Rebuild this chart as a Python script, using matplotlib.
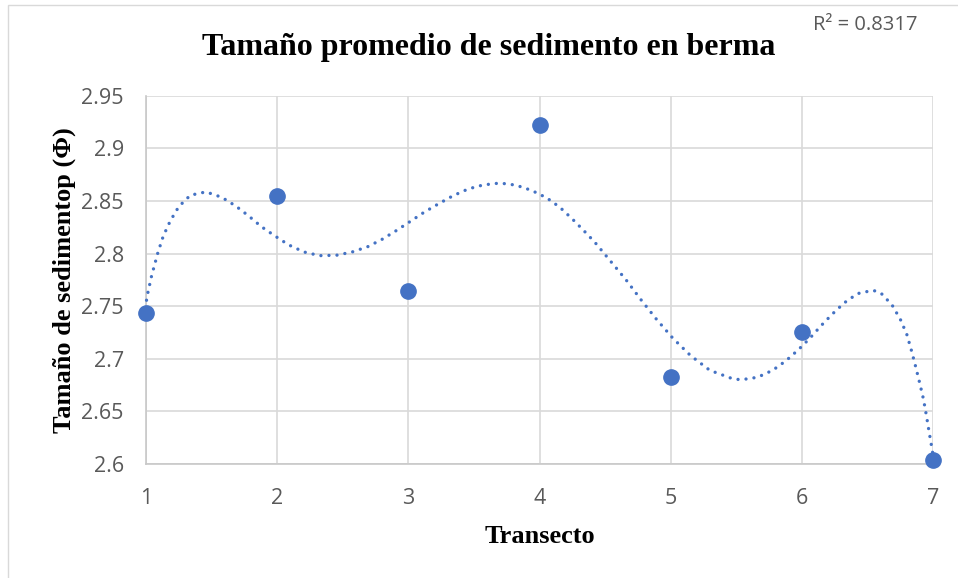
import matplotlib.pyplot as plt
from matplotlib.patches import Rectangle

# Transect data (mean sediment size, phi)
transecto = [1, 2, 3, 4, 5, 6, 7]
tamano = [2.7435, 2.8545, 2.764, 2.922, 2.683, 2.725, 2.604]

# Trendline
trend_x = [1.0, 1.005, 1.043, 1.091, 1.132, 1.185, 1.25, 1.338, 1.457, 1.577, 1.684,
           1.783, 1.879, 1.983, 2.088, 2.204, 2.324, 2.453, 2.572, 2.692, 2.801,
           2.908, 3.012, 3.121, 3.228, 3.342, 3.457, 3.571, 3.698, 3.82, 3.94,
           4.054, 4.155, 4.249, 4.336, 4.42, 4.50, 4.58, 4.664, 4.775, 4.892,
           5.017, 5.152, 5.299, 5.477, 5.54, 5.662, 5.777, 5.878, 5.972, 6.061,
           6.145, 6.231, 6.322, 6.424, 6.543, 6.604, 6.688, 6.752, 6.80, 6.836,
           6.869, 6.899, 6.927, 6.950, 6.970, 6.991, 7.0]
trend_y = [2.748, 2.7575, 2.779, 2.801, 2.8167, 2.831, 2.8446, 2.8554, 2.8586, 2.8535, 2.8452,
           2.8357, 2.8256, 2.8167, 2.8082, 2.8015, 2.798, 2.7984, 2.8015, 2.8066, 2.8136,
           2.8218, 2.8303, 2.8393, 2.8471, 2.855, 2.8614, 2.8652, 2.867, 2.865, 2.860,
           2.853, 2.844, 2.833, 2.822, 2.811, 2.799, 2.787, 2.7743, 2.7559, 2.7375,
           2.7195, 2.703, 2.689, 2.6808, 2.6801, 2.6824, 2.689, 2.698, 2.7084, 2.7195,
           2.7312, 2.7423, 2.753, 2.7619, 2.7651, 2.7623, 2.7511, 2.7372, 2.7233, 2.7077,
           2.6919, 2.6767, 2.6618, 2.6459, 2.6307, 2.6155, 2.6086]

y_ticks = [2.6, 2.65, 2.7, 2.75, 2.8, 2.85, 2.9, 2.95]
y_labels = ['2.6', '2.65', '2.7', '2.75', '2.8', '2.85', '2.9', '2.95']

azul = '#4472C4'
gris = '#595959'

fig = plt.figure(figsize=(9.58, 5.78), dpi=100)
ax = fig.add_axes([146 / 958, 1 - 464 / 578, (933 - 146) / 958, (464 - 95.7) / 578])

# light outer border like the Excel chart area
fig.patches.append(Rectangle((8 / 958, -0.1), 1.2, 1 - 5 / 578 + 0.1, transform=fig.transFigure,
                             fill=False, edgecolor='#D9D9D9', linewidth=1))

ax.plot(trend_x, trend_y, color=azul, linewidth=2.4, linestyle=(0, (0.01, 2.4)),
        dash_capstyle='round', zorder=3, clip_on=False)
ax.plot(transecto, tamano, 'o', color=azul, markersize=11, zorder=4, clip_on=False)

ax.set_xlim(1, 7)
ax.set_ylim(2.6, 2.95)
ax.set_xticks(transecto)
ax.set_yticks(y_ticks)
ax.set_yticklabels(y_labels)
ax.grid(True, color='#D9D9D9', linewidth=1.2)
ax.set_axisbelow(True)
for s in ['top', 'right']:
    ax.spines[s].set_visible(False)
for s in ['left', 'bottom']:
    ax.spines[s].set_color('#C8C8C8')
    ax.spines[s].set_linewidth(1.2)
ax.tick_params(length=0, labelsize=15.5, labelcolor=gris)
ax.tick_params(axis='x', pad=17)
ax.tick_params(axis='y', pad=16)
for lab in ax.get_xticklabels() + ax.get_yticklabels():
    lab.set_family('Open Sans')

ax.set_xlabel('Transecto', family='Liberation Serif', fontweight='bold', fontsize=19, labelpad=12)
ax.set_ylabel('Tamaño de sedimentop (Φ)', family='Liberation Serif', fontweight='bold',
              fontsize=19, labelpad=4)

fig.text(489 / 958, 1 - 55 / 578, 'Tamaño promedio de sedimento en berma', ha='center',
         va='baseline', family='Liberation Serif', fontweight='bold', fontsize=23)
fig.text(865 / 958, 1 - 25 / 578, 'R² = 0.8317', ha='center', va='center',
         family='Open Sans', fontsize=14.5, color=gris)

fig.savefig('out.png', dpi=100)
